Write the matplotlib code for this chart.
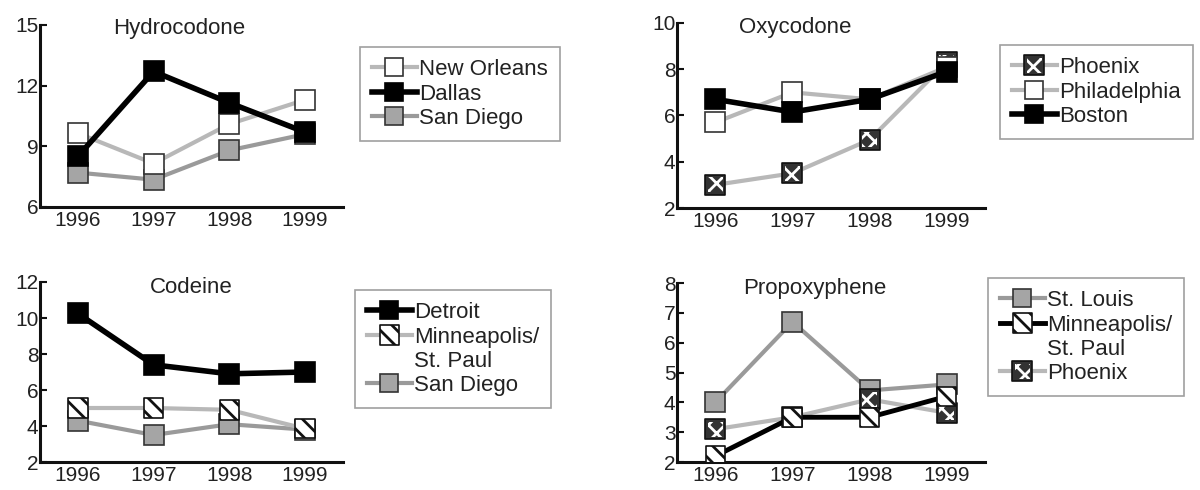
import matplotlib
matplotlib.use("Agg")
import matplotlib.pyplot as plt
from matplotlib.lines import Line2D

plt.rcParams['font.family'] = ['Liberation Sans', 'DejaVu Sans']
plt.rcParams['hatch.linewidth'] = 2.0

years = [1996, 1997, 1998, 1999]
year_labels = ['1996', '1997', '1998', '1999']

# Hydrocodone
hydro_new_orleans = [9.65, 8.15, 10.1, 11.3]
hydro_dallas = [8.5, 12.7, 11.15, 9.7]
hydro_san_diego = [7.7, 7.35, 8.8, 9.6]

# Oxycodone
oxy_phoenix = [3.0, 3.5, 4.95, 8.3]
oxy_philadelphia = [5.7, 7.0, 6.7, 8.1]
oxy_boston = [6.7, 6.15, 6.7, 7.9]

# Codeine
cod_detroit = [10.25, 7.4, 6.9, 7.0]
cod_minneapolis = [5.0, 5.0, 4.9, 3.85]
cod_san_diego = [4.3, 3.5, 4.1, 3.8]

# Propoxyphene
prop_st_louis = [4.0, 6.7, 4.4, 4.6]
prop_minneapolis = [2.2, 3.5, 3.5, 4.2]
prop_phoenix = [3.1, 3.5, 4.1, 3.65]

BLACK = '#000000'
LIGHT = '#b8b8b8'
MID = '#9a9a9a'
TXT = '#222222'

# style definitions: (line color, line width, marker face, marker edge, hatch, hatch colour)
STYLES = {
    'white': (LIGHT, 3.0, 'white', '#333333', None, None),
    'black': (BLACK, 4.0, BLACK, BLACK, None, None),
    'gray': (MID, 3.0, '#a5a5a5', '#333333', None, None),
    'stripe_light': (LIGHT, 3.0, 'white', '#111111', '\\\\', None),
    'stripe_black': (BLACK, 3.5, 'white', '#111111', '\\\\', None),
    'cross': (LIGHT, 3.0, '#333333', '#111111', 'xx', 'white'),
}
MS = 14
S_SCATTER = MS ** 2
FS = 16
TICK_FS = 15

fig = plt.figure(figsize=(12, 4.9), dpi=100)


def make_axes(rect, ylim, yticks):
    ax = fig.add_axes(rect)
    ax.set_xlim(1995.5, 1999.5)
    ax.set_ylim(*ylim)
    ax.set_yticks(yticks)
    ax.set_xticks(years)
    ax.set_xticklabels(year_labels)
    for s in ('top', 'right'):
        ax.spines[s].set_visible(False)
    for s in ('left', 'bottom'):
        ax.spines[s].set_linewidth(2.2)
        ax.spines[s].set_color('#111111')
    ax.tick_params(axis='y', direction='in', length=5, width=1.5, pad=1,
                   labelsize=TICK_FS, labelcolor=TXT, color='#111111')
    ax.tick_params(axis='x', length=0, pad=3, labelsize=TICK_FS, labelcolor=TXT)
    ax.patch.set_visible(False)
    return ax


def draw_series(ax, values, style, z):
    lc, lw, fc, ec, hatch, hc = STYLES[style]
    ax.plot(years, values, color=lc, lw=lw, zorder=z, solid_capstyle='butt')
    if hatch is None:
        ax.plot(years, values, ls='none', marker='s', ms=MS,
                mfc=fc, mec=ec, mew=1.2, zorder=z + 0.5)
        return Line2D([], [], color=lc, lw=lw, marker='s', ms=MS - 1,
                      mfc=fc, mec=ec, mew=1.2)
    lh = Line2D([], [], color=lc, lw=lw)
    if hc is None:
        sc = ax.scatter(years, values, marker='s', s=S_SCATTER, facecolor=fc,
                        edgecolor=ec, linewidth=1.2, hatch=hatch, zorder=z + 0.5)
        return (lh, sc)
    base = ax.scatter(years, values, marker='s', s=S_SCATTER, facecolor=fc,
                      edgecolor=ec, linewidth=1.2, zorder=z + 0.5)
    over = ax.scatter(years, values, marker='s', s=S_SCATTER * 0.6,
                      facecolor='none', edgecolor=hc, linewidth=0,
                      hatch=hatch, zorder=z + 0.6)
    return (lh, base, over)


def add_legend(handles, labels, anchor):
    leg = fig.legend(handles, labels, loc='upper left', bbox_to_anchor=anchor,
                     bbox_transform=fig.transFigure, fontsize=FS,
                     frameon=True, fancybox=False, edgecolor='#888888',
                     handlelength=2.0, handletextpad=0.1, labelspacing=0.15,
                     borderpad=0.55, scatterpoints=1, scatteryoffsets=[0.5],
                     borderaxespad=0)
    leg.get_frame().set_linewidth(1.2)
    for t in leg.get_texts():
        t.set_color(TXT)
    return leg


BLANK = Line2D([], [], ls='none', marker='none')

# --- Hydrocodone ---
ax1 = make_axes([0.0333, 0.5776, 0.2525, 0.3714], (6, 15), [6, 9, 12, 15])
h_sd = draw_series(ax1, hydro_san_diego, 'gray', 2)
h_no = draw_series(ax1, hydro_new_orleans, 'white', 3)
h_da = draw_series(ax1, hydro_dallas, 'black', 4)
ax1.text(0.46, 0.98, 'Hydrocodone', transform=ax1.transAxes, ha='center',
         va='center', fontsize=FS, color=TXT)
add_legend([h_no, h_da, h_sd], ['New Orleans', 'Dallas', 'San Diego'],
           (360 / 1200, 1 - 47 / 490))

# --- Oxycodone ---
ax2 = make_axes([0.564, 0.5755, 0.257, 0.3776], (2, 10), [2, 4, 6, 8, 10])
o_ph = draw_series(ax2, oxy_phoenix, 'cross', 2)
o_pa = draw_series(ax2, oxy_philadelphia, 'white', 3)
o_bo = draw_series(ax2, oxy_boston, 'black', 4)
ax2.text(0.383, 0.978, 'Oxycodone', transform=ax2.transAxes, ha='center',
         va='center', fontsize=FS, color=TXT)
add_legend([o_ph, o_pa, o_bo], ['Phoenix', 'Philadelphia', 'Boston'],
           (1000 / 1200, 1 - 45 / 490))

# --- Codeine ---
ax3 = make_axes([0.0333, 0.0571, 0.2525, 0.3674], (2, 12), [2, 4, 6, 8, 10, 12])
c_sd = draw_series(ax3, cod_san_diego, 'gray', 2)
c_mn = draw_series(ax3, cod_minneapolis, 'stripe_light', 3)
c_de = draw_series(ax3, cod_detroit, 'black', 4)
ax3.text(0.50, 0.97, 'Codeine', transform=ax3.transAxes, ha='center',
         va='center', fontsize=FS, color=TXT)
add_legend([c_de, c_mn, BLANK, c_sd],
           ['Detroit', 'Minneapolis/', 'St. Paul', 'San Diego'],
           (355 / 1200, 1 - 290 / 490))

# --- Propoxyphene ---
ax4 = make_axes([0.564, 0.0571, 0.257, 0.3653], (2, 8), [2, 3, 4, 5, 6, 7, 8])
p_sl = draw_series(ax4, prop_st_louis, 'gray', 2)
p_ph = draw_series(ax4, prop_phoenix, 'cross', 3)
p_mn = draw_series(ax4, prop_minneapolis, 'stripe_black', 4)
ax4.text(0.448, 0.972, 'Propoxyphene', transform=ax4.transAxes, ha='center',
         va='center', fontsize=FS, color=TXT)
add_legend([p_sl, p_mn, BLANK, p_ph],
           ['St. Louis', 'Minneapolis/', 'St. Paul', 'Phoenix'],
           (988 / 1200, 1 - 278 / 490))

fig.savefig('out.png', dpi=100)
